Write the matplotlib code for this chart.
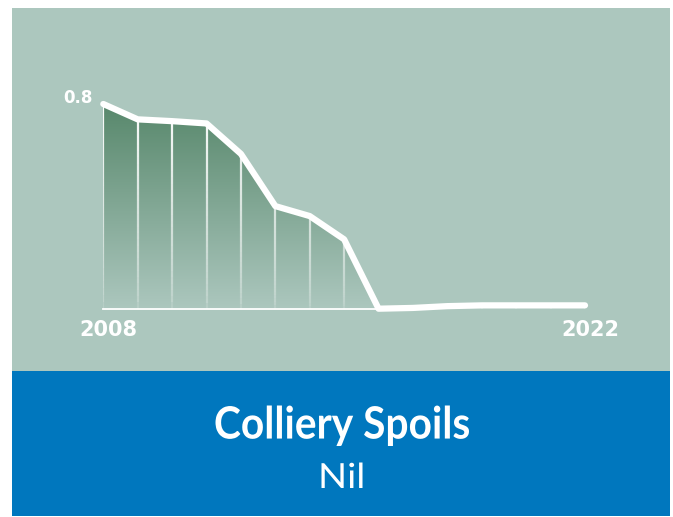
import numpy as np
import matplotlib
matplotlib.use("Agg")
import matplotlib.pyplot as plt
from matplotlib.patches import Rectangle, Polygon, PathPatch
from matplotlib.collections import LineCollection
from matplotlib.textpath import TextPath
from matplotlib.font_manager import FontProperties
from matplotlib.transforms import Affine2D

years = list(range(2008, 2023))
values = [0.80, 0.74, 0.733, 0.724, 0.605, 0.401, 0.362, 0.271,
          0.0, 0.003, 0.010, 0.013, 0.013, 0.013, 0.013]
tick_labels = ["2008", "2022"]
y_label = "0.8"
title = "Colliery Spoils"
subtitle = "Nil"

W, H = 673, 517
fig = plt.figure(figsize=(W / 100, H / 100), dpi=100)
fig.patch.set_facecolor("white")

GREEN_BG = "#acc7be"
BLUE = "#0077be"
DARK = np.array([0x58, 0x88, 0x6c]) / 255.0

bg = fig.add_axes([0, 0, 1, 1])
bg.set_xlim(0, W)
bg.set_ylim(H, 0)
bg.axis("off")
bg.add_patch(Rectangle((12, 8), 658, 363, color=GREEN_BG, lw=0))
bg.add_patch(Rectangle((12, 371), 658, 145, color=BLUE, lw=0))


def fitted_text(s, prop, xl, xr, ytop, ybot):
    tp = TextPath((0, 0), s, size=100, prop=prop)
    ext = tp.get_extents()
    sx = (xr - xl) / ext.width
    sy = (ybot - ytop) / ext.height
    tr = (Affine2D().translate(-ext.x0, -ext.y0).scale(sx, -sy)
          .translate(xl, ybot) + bg.transData)
    bg.add_patch(PathPatch(tp, transform=tr, facecolor="white",
                           edgecolor="none", lw=0))


fitted_text(title, FontProperties(family="Lato", weight="bold"),
            215.5, 469, 405.5, 446)
fitted_text(subtitle, FontProperties(family="Lato", weight="normal"),
            321.5, 362.5, 462.5, 488)

x0_px, x1_px = 103.3, 585.0
yb_px, yt_px = 308.7, 104.0
ax = fig.add_axes([x0_px / W, 1 - yb_px / H, (x1_px - x0_px) / W, (yb_px - yt_px) / H])
ax.set_xlim(years[0], years[-1])
ax.set_ylim(0, 0.8)
ax.axis("off")
ax.patch.set_alpha(0)

xs = np.array(years, dtype=float)
ys = np.array(values)

rgba = np.zeros((256, 1, 4))
bgc = np.array(matplotlib.colors.to_rgb(GREEN_BG))
for i in range(256):
    t = i / 255.0
    rgba[i, 0, :3] = DARK * t + bgc * (1 - t)
    rgba[i, 0, 3] = 1.0
im = ax.imshow(rgba, extent=[xs[0], xs[-1], 0, 0.8], origin="lower",
               aspect="auto", zorder=1, interpolation="bicubic")
poly = Polygon(np.vstack([[xs[0], 0], np.column_stack([xs, ys]), [xs[-1], 0]]),
               closed=True, transform=ax.transData, facecolor="none", edgecolor="none")
ax.add_patch(poly)
im.set_clip_path(poly)

segs, cols = [], []
n = 30
for x, y in zip(xs, ys):
    if y <= 0.005:
        continue
    hs = np.linspace(0, y, n + 1)
    for k in range(n):
        segs.append([(x, hs[k]), (x, hs[k + 1])])
        a = 0.15 + 0.85 * (hs[k] / 0.8) ** 0.6
        cols.append((1, 1, 1, min(a, 1)))
ax.add_collection(LineCollection(segs, colors=cols, linewidths=1.6, zorder=2,
                                 capstyle="butt"))

ax.plot([xs[0], xs[8]], [0, 0], color="white", lw=1.3, zorder=2, clip_on=False)

ax.plot(xs, ys, color="white", lw=4.5, solid_capstyle="round",
        solid_joinstyle="round", zorder=3, clip_on=False)

bg.text(93, 98, y_label, ha="right", va="center", color="white",
        fontsize=12, fontweight="bold", family="DejaVu Sans")
bg.text(108.5, 329.5, tick_labels[0], ha="center", va="center", color="white",
        fontsize=15, fontweight="bold", family="DejaVu Sans")
bg.text(590, 329.5, tick_labels[1], ha="center", va="center", color="white",
        fontsize=15, fontweight="bold", family="DejaVu Sans")

fig.savefig("out.png", dpi=100)
